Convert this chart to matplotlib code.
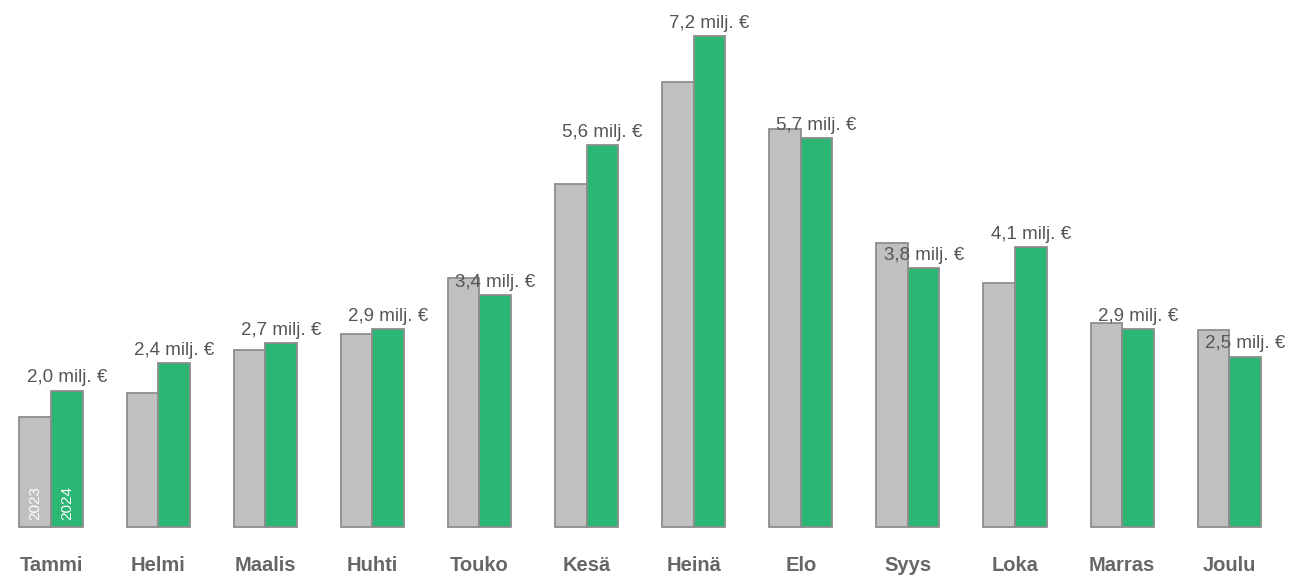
import numpy as np
import matplotlib.pyplot as plt

months = ["Tammi", "Helmi", "Maalis", "Huhti", "Touko", "Kesä",
          "Heinä", "Elo", "Syys", "Loka", "Marras", "Joulu"]
sales_2023 = [1.61, 1.96, 2.60, 2.83, 3.65, 5.03, 6.52, 5.84, 4.16, 3.58, 2.99, 2.89]
sales_2024 = [2.0, 2.4, 2.7, 2.9, 3.4, 5.6, 7.2, 5.7, 3.8, 4.1, 2.9, 2.5]
value_labels = ["2,0 milj. €", "2,4 milj. €", "2,7 milj. €", "2,9 milj. €",
                "3,4 milj. €", "5,6 milj. €", "7,2 milj. €", "5,7 milj. €",
                "3,8 milj. €", "4,1 milj. €", "2,9 milj. €", "2,5 milj. €"]

plt.rcParams['font.family'] = ['Liberation Sans', 'DejaVu Sans']

fig = plt.figure(figsize=(13.01, 5.79), dpi=100)
ax = fig.add_axes([0, 0, 1, 1])

x = np.arange(len(months))
w = 0.295
edge = "#8e8e8e"
b23 = ax.bar(x - w / 2, sales_2023, w, color="#c0c0c0", edgecolor=edge, linewidth=1.3)
b24 = ax.bar(x + w / 2, sales_2024, w, color="#2bb673", edgecolor=edge, linewidth=1.3)

for xi, v, lab in zip(x, sales_2024, value_labels):
    ax.annotate(lab, (xi + w / 2, v), xytext=(0, 3), textcoords="offset points",
                ha="center", va="bottom", fontsize=13.5, color="#555555")

# year labels inside first group
ax.text(x[0] - w / 2, 0.1, "2023", rotation=90, ha="center", va="bottom",
        color="white", fontsize=11)
ax.text(x[0] + w / 2, 0.1, "2024", rotation=90, ha="center", va="bottom",
        color="white", fontsize=11)

for xi, m in zip(x, months):
    ax.text(xi, -0.57, m, ha="center", va="center", fontsize=14.5,
            fontweight="bold", color="#666666")

ax.set_xlim(-0.476, 11.67)
ax.set_ylim(-0.762, 7.727)
ax.axis("off")

fig.savefig("out.png", dpi=100)
